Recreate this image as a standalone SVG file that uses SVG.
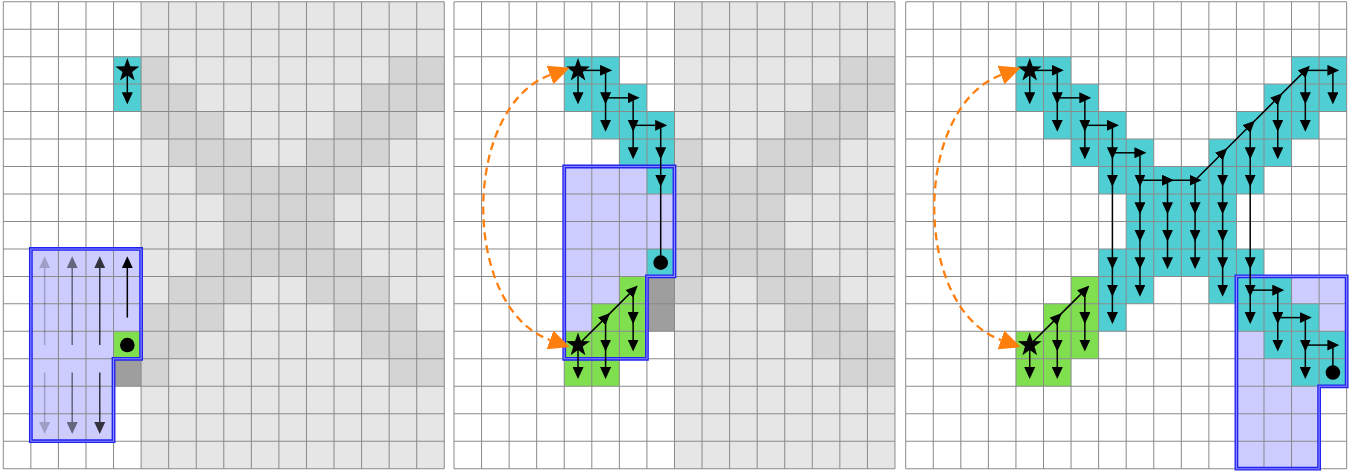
<svg xmlns="http://www.w3.org/2000/svg" xmlns:xlink="http://www.w3.org/1999/xlink" width="1354" height="472" viewBox="0 0 1354 472">
<style>
.g{fill:#e6e6e6}
.d{fill:#d4d4d4}
.k{fill:#9e9e9e}
.c{fill:#4fcfd4}
.n{fill:#7fdf4f}
.lav{fill:#ccccff}
.grid{fill:none;stroke:#8a8a8a;stroke-width:1}
.ar{fill:none;stroke:#000;stroke-width:1.5;marker-mid:url(#ah);marker-end:url(#ah)}
.ln{fill:none;stroke:#000;stroke-width:1.5}
.ol{fill:none;stroke:#2323f0;stroke-width:3.8;stroke-linejoin:miter}
.ol2{fill:none;stroke:#8c8cff;stroke-width:1.1}
.or{fill:none;stroke:#ff7f0e;stroke-width:2.3;stroke-dasharray:8 5;marker-start:url(#oh);marker-end:url(#oh)}
.st{fill:#050505}
</style>
<defs>
<marker id="ah" markerUnits="userSpaceOnUse" viewBox="0 0 12 11" refX="5.5" refY="5.5" markerWidth="12" markerHeight="11" orient="auto"><path d="M0,0L12,5.5L0,11z" fill="#000"/></marker>
<marker id="oh" markerUnits="userSpaceOnUse" viewBox="0 0 21 20" refX="0" refY="10" markerWidth="21" markerHeight="20" orient="auto-start-reverse"><path d="M0,0L21,10L0,20z" fill="#ff7f0e"/></marker>
<path id="grid" d="M0,0V467.5M27.5,0V467.5M55,0V467.5M82.5,0V467.5M110,0V467.5M137.5,0V467.5M165,0V467.5M192.5,0V467.5M220,0V467.5M247.5,0V467.5M275,0V467.5M302.5,0V467.5M330,0V467.5M357.5,0V467.5M385,0V467.5M412.5,0V467.5M440,0V467.5M0,0H440M0,27.5H440M0,55H440M0,82.5H440M0,110H440M0,137.5H440M0,165H440M0,192.5H440M0,220H440M0,247.5H440M0,275H440M0,302.5H440M0,330H440M0,357.5H440M0,385H440M0,412.5H440M0,440H440M0,467.5H440"/>
<polygon id="star" points="0,-12.5 2.94,-4.05 11.89,-3.86 4.76,1.55 7.35,10.11 0,5 -7.35,10.11 -4.76,1.55 -11.89,-3.86 -2.94,-4.05"/>
<g id="greenArrows">
<path class="ar" d="M123.75,343.75L151.25,316.25L178.75,288.75"/>
<path class="ar" d="M123.75,343.75V371.25"/>
<path class="ar" d="M151.25,316.25V343.75V371.25"/>
<path class="ar" d="M178.75,288.75V316.25V343.75"/>
</g>
<g id="greenCells">
<rect class="n" x="165" y="275" width="27.5" height="27.5"/>
<rect class="n" x="137.5" y="302.5" width="55" height="27.5"/>
<rect class="n" x="110" y="330" width="82.5" height="27.5"/>
<rect class="n" x="110" y="357.5" width="55" height="27.5"/>
</g>
</defs>
<rect x="0" y="0" width="1354" height="472" fill="#fff"/>

<!-- Panel 1 -->
<g id="panel1" transform="translate(3.3,1.7) scale(1.0022,0.9989)">
<rect class="g" x="137.5" y="0" width="302.5" height="467.5"/>
<g id="p1-dark">
<rect class="d" x="137.5" y="55" width="27.5" height="27.5"/><rect class="d" x="385" y="55" width="55" height="27.5"/>
<rect class="d" x="137.5" y="82.5" width="55" height="27.5"/><rect class="d" x="357.5" y="82.5" width="82.5" height="27.5"/>
<rect class="d" x="137.5" y="110" width="82.5" height="27.5"/><rect class="d" x="330" y="110" width="82.5" height="27.5"/>
<rect class="d" x="165" y="137.5" width="82.5" height="27.5"/><rect class="d" x="302.5" y="137.5" width="82.5" height="27.5"/>
<rect class="d" x="192.5" y="165" width="165" height="27.5"/>
<rect class="d" x="220" y="192.5" width="110" height="55"/>
<rect class="d" x="192.5" y="247.5" width="165" height="27.5"/>
<rect class="d" x="165" y="275" width="82.5" height="27.5"/><rect class="d" x="302.5" y="275" width="82.5" height="27.5"/>
<rect class="d" x="137.5" y="302.5" width="82.5" height="27.5"/><rect class="d" x="330" y="302.5" width="82.5" height="27.5"/>
<rect class="d" x="137.5" y="330" width="55" height="27.5"/><rect class="d" x="357.5" y="330" width="82.5" height="27.5"/>
<rect class="d" x="137.5" y="357.5" width="27.5" height="27.5"/><rect class="d" x="385" y="357.5" width="55" height="27.5"/>
<rect class="k" x="110" y="357.5" width="27.5" height="27.5"/>
</g>
<rect class="c" x="110" y="55" width="27.5" height="55"/>
<polygon class="lav" points="27.5,247.5 137.5,247.5 137.5,357.5 110,357.5 110,440 27.5,440"/>
<rect class="n" x="110" y="330" width="27.5" height="27.5"/>
<use href="#grid" class="grid"/>
<g id="p1-outline">
<polygon class="ol" points="27.5,247.5 137.5,247.5 137.5,357.5 110,357.5 110,440 27.5,440"/>
<polygon class="ol2" points="27.5,247.5 137.5,247.5 137.5,357.5 110,357.5 110,440 27.5,440"/>
</g>
<g id="p1-connectors">
<g opacity="0.22"><path class="ar" d="M41.25,343.75V261.25"/><path class="ar" d="M41.25,371.25V426.25"/></g>
<g opacity="0.5"><path class="ar" d="M68.75,343.75V261.25"/><path class="ar" d="M68.75,371.25V426.25"/></g>
<g opacity="0.75"><path class="ar" d="M96.25,343.75V261.25"/><path class="ar" d="M96.25,371.25V426.25"/></g>
<path class="ar" d="M123.75,316.25V261.25"/>
<path class="ar" d="M123.75,68.75V96.25"/>
</g>
<circle cx="123.75" cy="343.75" r="7.3"/>
<use href="#star" class="st" x="123.75" y="68.75"/>
</g>

<!-- Panel 2 -->
<g id="panel2" transform="translate(454,1.7) scale(1.0022,0.9989)">
<rect class="g" x="220" y="0" width="220" height="467.5"/>
<g id="p2-dark">
<rect class="d" x="385" y="55" width="55" height="27.5"/>
<rect class="d" x="357.5" y="82.5" width="82.5" height="27.5"/>
<rect class="d" x="330" y="110" width="82.5" height="27.5"/>
<rect class="d" x="220" y="137.5" width="27.5" height="27.5"/><rect class="d" x="302.5" y="137.5" width="82.5" height="27.5"/>
<rect class="d" x="220" y="165" width="137.5" height="27.5"/>
<rect class="d" x="220" y="192.5" width="110" height="55"/>
<rect class="d" x="220" y="247.5" width="137.5" height="27.5"/>
<rect class="d" x="220" y="275" width="27.5" height="27.5"/><rect class="d" x="302.5" y="275" width="82.5" height="27.5"/>
<rect class="d" x="330" y="302.5" width="82.5" height="27.5"/>
<rect class="d" x="357.5" y="330" width="82.5" height="27.5"/>
<rect class="d" x="385" y="357.5" width="55" height="27.5"/>
<rect class="k" x="192.5" y="275" width="27.5" height="55"/>
</g>
<polygon class="lav" points="110,165 220,165 220,275 192.5,275 192.5,357.5 110,357.5"/>
<g id="p2-cyan">
<rect class="c" x="110" y="55" width="55" height="27.5"/>
<rect class="c" x="110" y="82.5" width="82.5" height="27.5"/>
<rect class="c" x="137.5" y="110" width="82.5" height="27.5"/>
<rect class="c" x="165" y="137.5" width="55" height="27.5"/>
<rect class="c" x="192.5" y="165" width="27.5" height="27.5"/>
<rect class="c" x="192.5" y="247.5" width="27.5" height="27.5"/>
</g>
<use href="#greenCells"/>
<use href="#grid" class="grid"/>
<g id="p2-outline">
<polygon class="ol" points="110,165 220,165 220,275 192.5,275 192.5,357.5 110,357.5"/>
<polygon class="ol2" points="110,165 220,165 220,275 192.5,275 192.5,357.5 110,357.5"/>
</g>
<g id="p2-connectors">
<path class="ar" d="M123.75,68.75H151.25"/>
<path class="ar" d="M123.75,68.75V96.25"/>
<path class="ar" d="M151.25,68.75V96.25V123.75"/>
<path class="ar" d="M151.25,96.25H178.75"/>
<path class="ar" d="M178.75,96.25V123.75V151.25"/>
<path class="ar" d="M178.75,123.75H206.25"/>
<path class="ar" d="M206.25,123.75V151.25V178.75"/>
<path class="ln" d="M206.25,178.75V261.25"/>
<use href="#greenArrows"/>
</g>
<circle cx="206.25" cy="261.25" r="7.3"/>
<use href="#star" class="st" x="123.75" y="68.75"/>
<use href="#star" class="st" x="123.75" y="343.75"/>
</g>

<!-- Panel 3 -->
<g id="panel3" transform="translate(905.7,1.7) scale(1.0022,0.9989)">
<polygon class="lav" points="330,275 440,275 440,385 412.5,385 412.5,467.5 330,467.5"/>
<g id="p3-cyan">
<rect class="c" x="110" y="55" width="55" height="27.5"/><rect class="c" x="385" y="55" width="55" height="27.5"/>
<rect class="c" x="110" y="82.5" width="82.5" height="27.5"/><rect class="c" x="357.5" y="82.5" width="82.5" height="27.5"/>
<rect class="c" x="137.5" y="110" width="82.5" height="27.5"/><rect class="c" x="330" y="110" width="82.5" height="27.5"/>
<rect class="c" x="165" y="137.5" width="82.5" height="27.5"/><rect class="c" x="302.5" y="137.5" width="82.5" height="27.5"/>
<rect class="c" x="192.5" y="165" width="165" height="27.5"/>
<rect class="c" x="220" y="192.5" width="110" height="55"/>
<rect class="c" x="192.5" y="247.5" width="165" height="27.5"/>
<rect class="c" x="192.5" y="275" width="55" height="27.5"/><rect class="c" x="302.5" y="275" width="82.5" height="27.5"/>
<rect class="c" x="192.5" y="302.5" width="27.5" height="27.5"/><rect class="c" x="330" y="302.5" width="82.5" height="27.5"/>
<rect class="c" x="357.5" y="330" width="82.5" height="27.5"/>
<rect class="c" x="385" y="357.5" width="55" height="27.5"/>
</g>
<use href="#greenCells"/>
<use href="#grid" class="grid"/>
<g id="p3-outline">
<polygon class="ol" points="330,275 440,275 440,385 412.5,385 412.5,467.5 330,467.5"/>
<polygon class="ol2" points="330,275 440,275 440,385 412.5,385 412.5,467.5 330,467.5"/>
</g>
<g id="p3-connectors">
<path class="ar" d="M123.75,68.75H151.25"/>
<path class="ar" d="M123.75,68.75V96.25"/>
<path class="ar" d="M151.25,68.75V96.25V123.75"/>
<path class="ar" d="M151.25,96.25H178.75"/>
<path class="ar" d="M178.75,96.25V123.75V151.25"/>
<path class="ar" d="M178.75,123.75H206.25"/>
<path class="ar" d="M206.25,123.75V151.25V178.75V261.25V288.75V316.25"/>
<path class="ar" d="M206.25,151.25H233.75"/>
<path class="ar" d="M233.75,151.25V178.75V206.25V233.75V261.25V288.75"/>
<path class="ar" d="M233.75,178.75H261.25H288.75"/>
<path class="ar" d="M261.25,178.75V206.25V233.75V261.25"/>
<path class="ar" d="M288.75,178.75V206.25V233.75V261.25"/>
<path class="ar" d="M288.75,178.75L316.25,151.25L343.75,123.75L371.25,96.25L398.75,68.75"/>
<path class="ar" d="M398.75,68.75H426.25"/>
<path class="ar" d="M426.25,68.75V96.25"/>
<path class="ar" d="M398.75,68.75V96.25V123.75"/>
<path class="ar" d="M371.25,96.25V123.75V151.25"/>
<path class="ar" d="M343.75,123.75V151.25V178.75V261.25V288.75V316.25"/>
<path class="ar" d="M316.25,151.25V178.75V206.25V233.75V261.25V288.75"/>
<path class="ar" d="M343.75,288.75H371.25"/>
<path class="ar" d="M371.25,288.75V316.25V343.75"/>
<path class="ar" d="M371.25,316.25H398.75"/>
<path class="ar" d="M398.75,316.25V343.75V371.25"/>
<path class="ar" d="M398.75,343.75H426.25"/>
<path class="ln" d="M426.25,343.75V371.25"/>
<use href="#greenArrows"/>
</g>
<circle cx="426.25" cy="371.25" r="7.3"/>
<use href="#star" class="st" x="123.75" y="68.75"/>
<use href="#star" class="st" x="123.75" y="343.75"/>
</g>

<g id="swap-arrows">
<path class="or" d="M550,75C461,108 461,308 550,340"/>
<path class="or" d="M1001,75C912,108 912,308 1001,340"/>
</g>
</svg>
